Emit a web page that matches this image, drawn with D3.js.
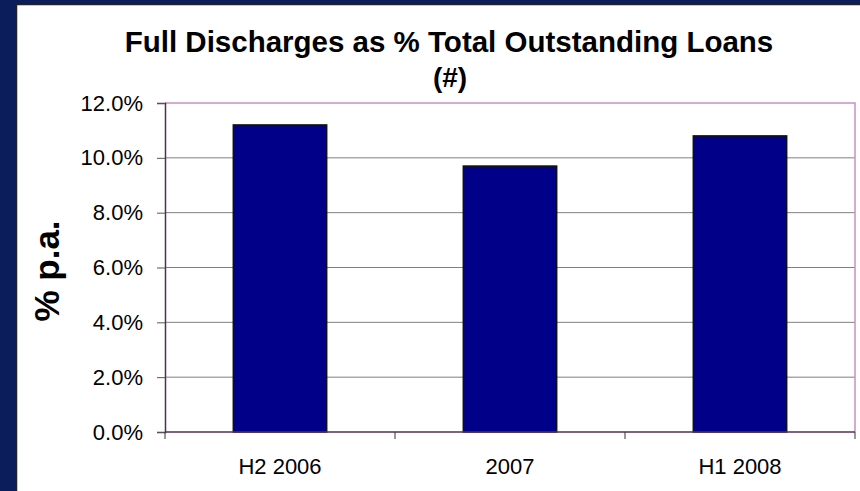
<!DOCTYPE html>
<html>
<head>
<meta charset="utf-8">
<script src="https://cdn.jsdelivr.net/npm/d3@7"></script>
<style>
  html, body { margin: 0; padding: 0; background: #0b1d5b; }
  svg { display: block; }
  text { font-family: "Liberation Sans", Arial, sans-serif; fill: #000; }
</style>
</head>
<body>
<svg id="chart" width="860" height="491"></svg>
<script>
// Data
const categories = ["H2 2006", "2007", "H1 2008"];
const values = [11.2, 9.7, 10.8];
const yTicks = [0, 2, 4, 6, 8, 10, 12];

const W = 860, H = 491;
const svg = d3.select("#chart");

// Navy backdrop and white chart panel
svg.append("rect").attr("width", W).attr("height", H).attr("fill", "#0b1d5b");
svg.append("rect")
  .attr("x", 16.5).attr("y", 4.5).attr("width", W).attr("height", H)
  .attr("fill", "#fff").attr("stroke", "#222").attr("stroke-width", 1.5);

const plot = { left: 165, right: 855, top: 103, bottom: 432 };

const x = d3.scaleBand().domain(categories)
  .range([plot.left, plot.right]).paddingInner(0.594).paddingOuter(0.297);
const y = d3.scaleLinear().domain([0, 12]).range([plot.bottom, plot.top]);

// Gridlines
svg.append("g").selectAll("line").data(yTicks.filter(t => t > 0 && t < 12)).join("line")
  .attr("x1", plot.left).attr("x2", plot.right)
  .attr("y1", d => y(d)).attr("y2", d => y(d))
  .attr("stroke", "#808080").attr("stroke-width", 1);

// Plot frame (top and right)
svg.append("path")
  .attr("d", `M${plot.left},${plot.top}H${plot.right}V${plot.bottom}`)
  .attr("fill", "none").attr("stroke", "#c890c8").attr("stroke-width", 1.5);

// Bars
svg.append("g").selectAll("rect").data(values).join("rect")
  .attr("x", (d, i) => x(categories[i]))
  .attr("width", x.bandwidth())
  .attr("y", d => y(d))
  .attr("height", d => y(0) - y(d))
  .attr("fill", "#000088").attr("stroke", "#111").attr("stroke-width", 1.5);

// Y axis
const yAxis = d3.axisLeft(y).tickValues(yTicks).tickFormat(d => d.toFixed(1) + "%").tickSize(8).tickPadding(14);
const gy = svg.append("g").attr("transform", `translate(${plot.left},0)`).call(yAxis);
gy.attr("font-size", null).attr("font-family", null);
gy.select(".domain").attr("stroke", "#503050").attr("stroke-width", 1.5);
gy.selectAll(".tick line").attr("stroke", "#555");
gy.selectAll(".tick text").style("font-size", "22px").attr("fill", "#000");

// X axis with ticks on category boundaries
const boundaries = d3.range(categories.length + 1).map(i => plot.left + i * (plot.right - plot.left) / categories.length);
const gx = svg.append("g");
gx.append("line").attr("x1", plot.left).attr("x2", plot.right)
  .attr("y1", plot.bottom).attr("y2", plot.bottom)
  .attr("stroke", "#503050").attr("stroke-width", 1.5);
gx.selectAll("line.tk").data(boundaries).join("line").attr("class", "tk")
  .attr("x1", d => d).attr("x2", d => d)
  .attr("y1", plot.bottom).attr("y2", plot.bottom + 7)
  .attr("stroke", "#333");
gx.selectAll("text").data(categories).join("text")
  .attr("x", d => x(d) + x.bandwidth() / 2)
  .attr("y", 474)
  .attr("text-anchor", "middle")
  .style("font-size", "22px")
  .text(d => d);

// Titles
svg.append("text").attr("x", 449).attr("y", 52).attr("text-anchor", "middle")
  .style("font-size", "29.5px").attr("font-weight", "bold")
  .text("Full Discharges as % Total Outstanding Loans");
svg.append("text").attr("x", 450).attr("y", 87).attr("text-anchor", "middle")
  .style("font-size", "28px").attr("font-weight", "bold").text("(#)");
svg.append("text")
  .attr("transform", `translate(59,271) rotate(-90)`)
  .attr("text-anchor", "middle").style("font-size", "35px").attr("font-weight", "bold")
  .text("% p.a.");
</script>
</body>
</html>
